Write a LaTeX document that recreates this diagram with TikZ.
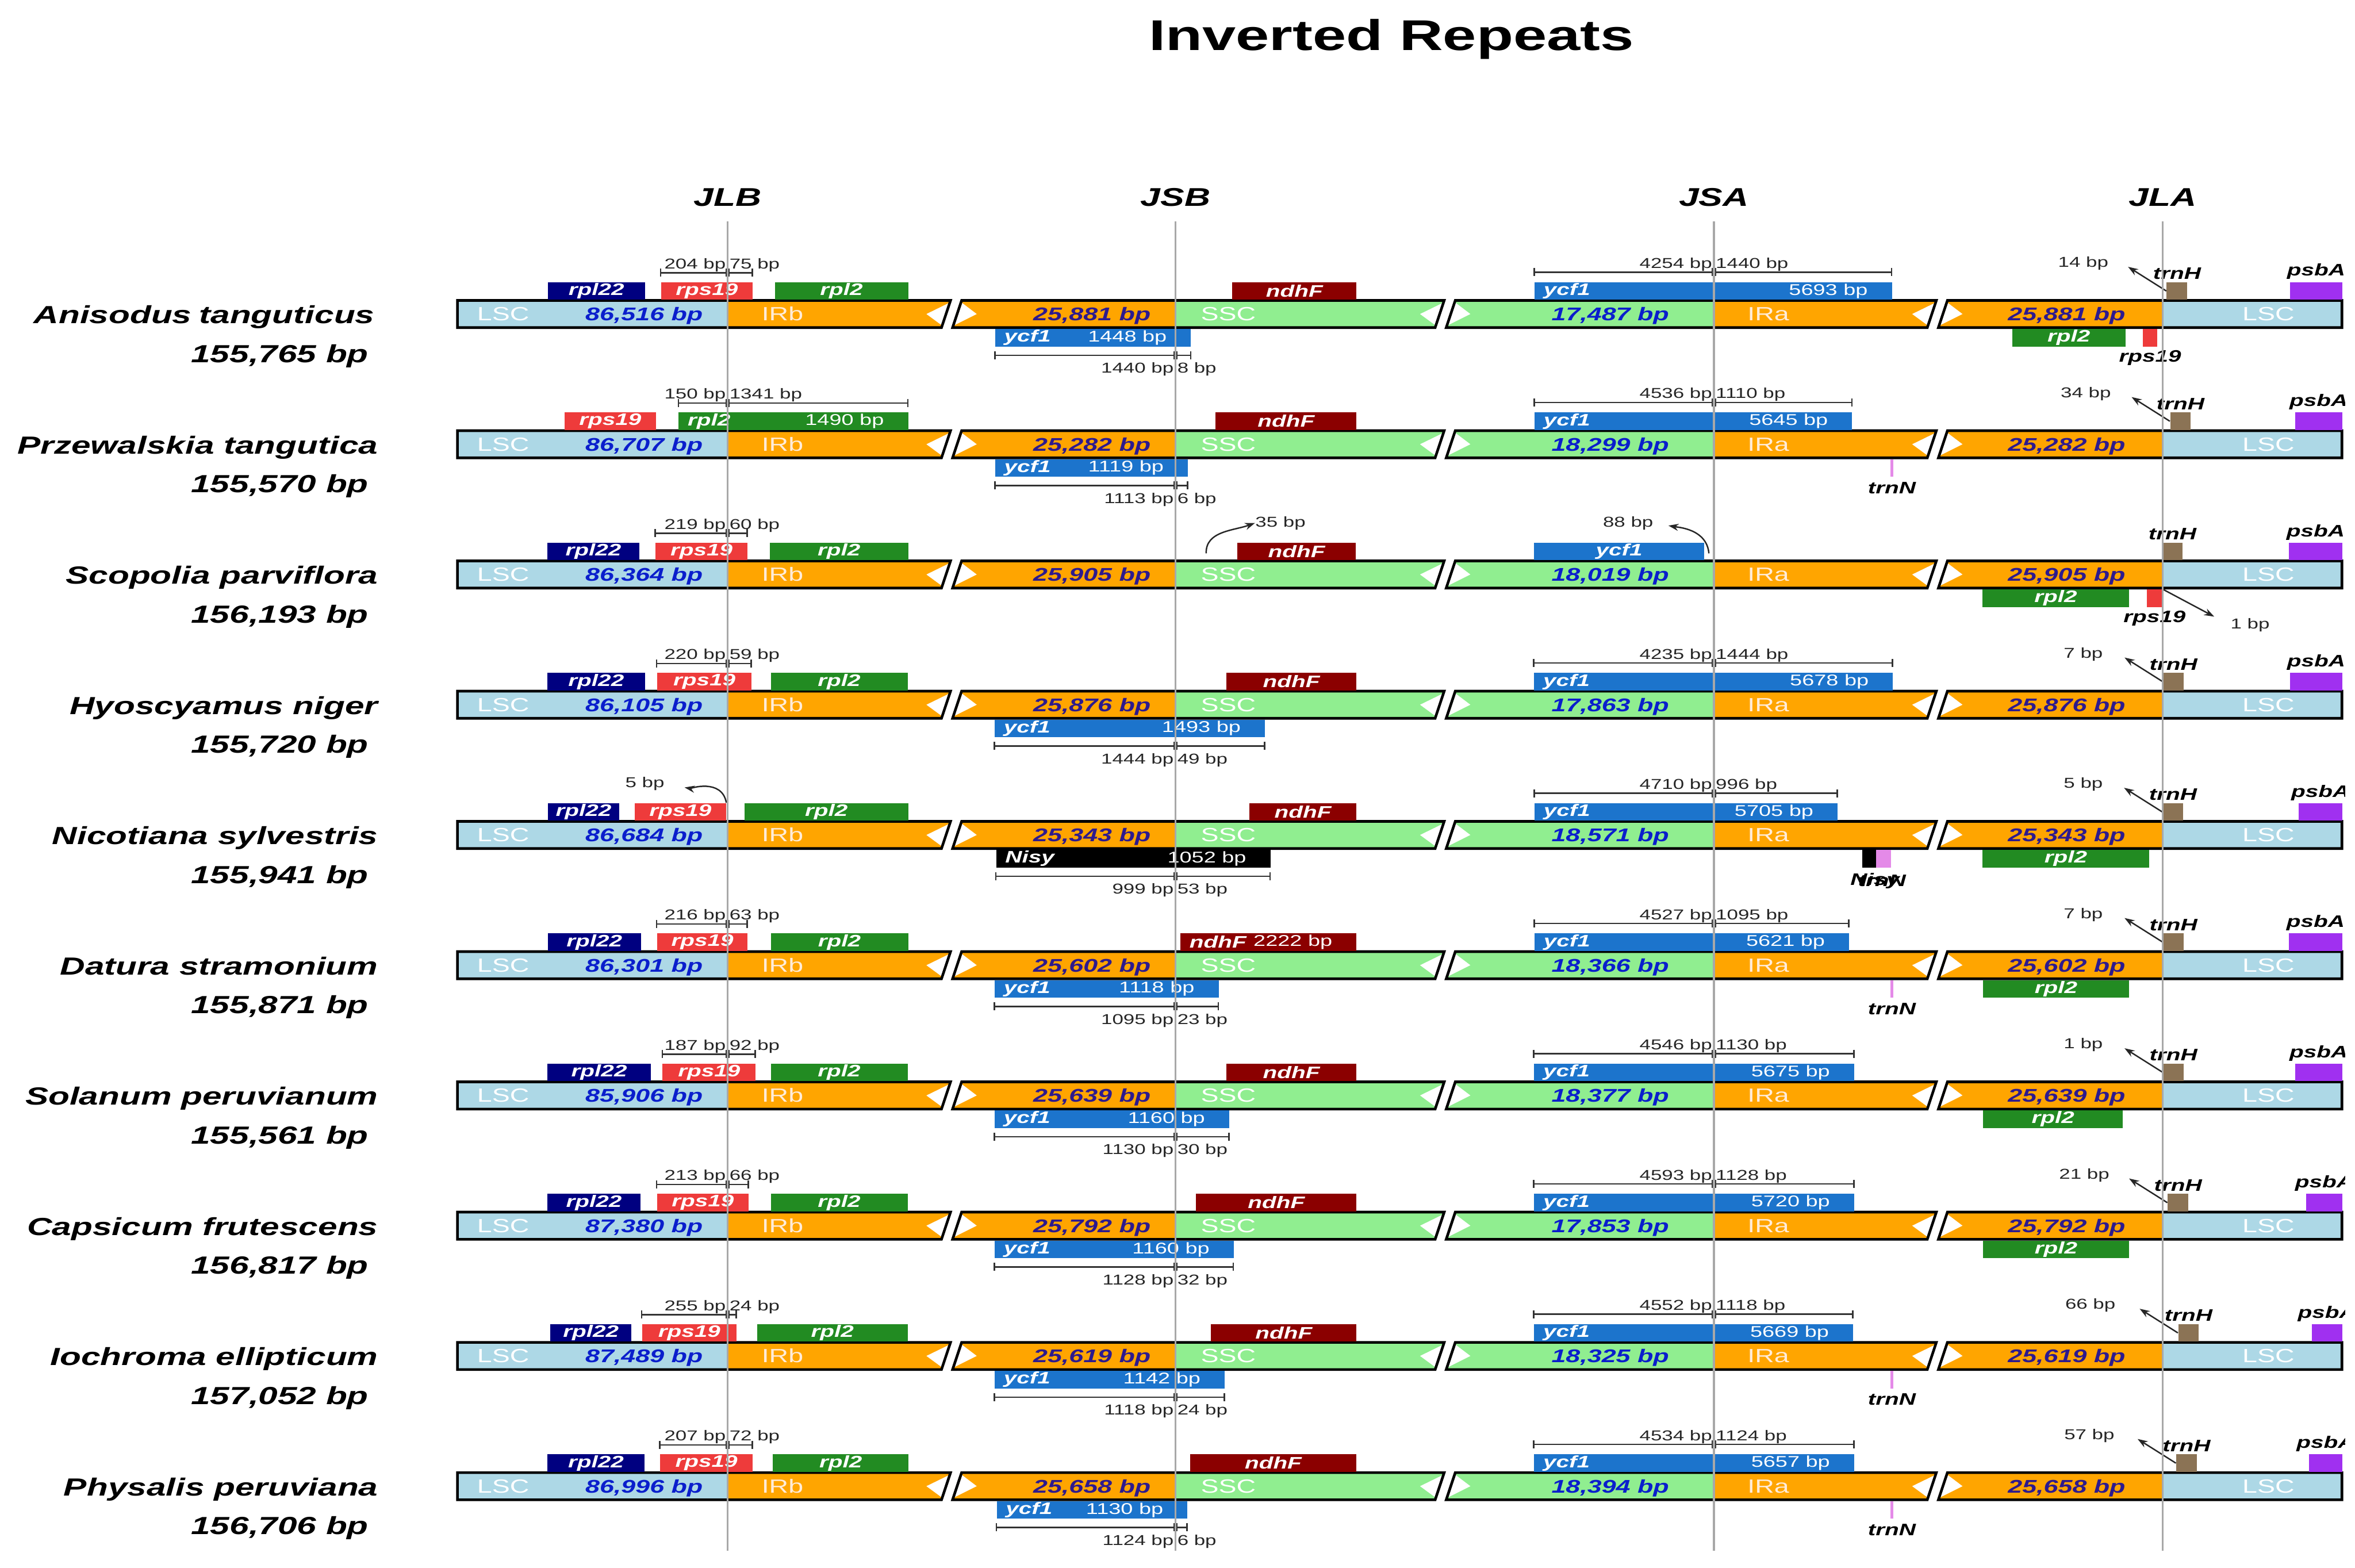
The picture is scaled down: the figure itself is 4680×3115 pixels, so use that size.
\documentclass[tikz,border=0pt]{standalone}
\usepackage{fontspec}
\setmainfont{Liberation Sans}[FakeStretch=1.4]
\usetikzlibrary{arrows.meta, positioning}
\definecolor{lscblue}{HTML}{ADD8E6}
\definecolor{irorange}{HTML}{FFA500}
\definecolor{sscgreen}{HTML}{90EE90}
\definecolor{rplnavy}{HTML}{000080}
\definecolor{rpsred}{HTML}{EE3B3B}
\definecolor{rplgreen}{HTML}{228B22}
\definecolor{ndhred}{HTML}{8B0000}
\definecolor{ycfblue}{HTML}{1C74CC}
\definecolor{trnbrown}{HTML}{8B7355}
\definecolor{psbpurple}{HTML}{A030F0}
\definecolor{trnpink}{HTML}{E48AE8}
\definecolor{numblue}{HTML}{0A1ECC}
\definecolor{numpurple}{HTML}{2D1A8E}
\definecolor{junctgray}{HTML}{A8A8A8}

% one genome bar: centre y, LSC, IR, SSC, prefix
\newcommand{\cpbar}[5]{%
  \pgfmathsetmacro{\yt}{#1-27}%
  \pgfmathsetmacro{\yb}{#1+27}%
  \begin{scope}
    \clip (909,\yt) -- (1889,\yt) -- (1871,\yb) -- (909,\yb) -- cycle
          (1911,\yt) -- (2870,\yt) -- (2852,\yb) -- (1893,\yb) -- cycle
          (2892,\yt) -- (3848,\yt) -- (3830,\yb) -- (2874,\yb) -- cycle
          (3870,\yt) -- (4654,\yt) -- (4654,\yb) -- (3852,\yb) -- cycle;
    \fill[lscblue] (909,\yt) rectangle (1446,\yb);
    \fill[irorange] (1446,\yt) rectangle (2336,\yb);
    \fill[sscgreen] (2336,\yt) rectangle (3406,\yb);
    \fill[irorange] (3406,\yt) rectangle (4298,\yb);
    \fill[lscblue] (4298,\yt) rectangle (4654,\yb);
  \end{scope}
  \foreach \bx in {1891,2872,3850}{
    \fill[white] (\bx-5,\yt+5) -- (\bx-20,\yb-5) -- (\bx-50,#1) -- cycle;
    \fill[white] (\bx+21,\yt+5) -- (\bx+6,\yb-5) -- (\bx+50,#1) -- cycle;
  }
  \draw[barline] (909,\yt) -- (1889,\yt) -- (1871,\yb) -- (909,\yb) -- cycle
                 (1911,\yt) -- (2870,\yt) -- (2852,\yb) -- (1893,\yb) -- cycle
                 (2892,\yt) -- (3848,\yt) -- (3830,\yb) -- (2874,\yb) -- cycle
                 (3870,\yt) -- (4654,\yt) -- (4654,\yb) -- (3852,\yb) -- cycle;
  \node[regtxt, text=white] (#5lsc) at (1000,#1+13) {LSC};
  \node[numtxt, text=numblue] (#5nl) at (1280,#1+13) {#2};
  \node[regtxt, text=white!85!orange] (#5irb) at (1555,#1+13) {IRb};
  \node[numtxt, text=numpurple] (#5nb) at (2170,#1+13) {#3};
  \node[regtxt, text=white] (#5ssc) at (2441,#1+13) {SSC};
  \node[numtxt, text=numblue] (#5ns) at (3200,#1+13) {#4};
  \node[regtxt, text=white!85!orange] (#5ira) at (3514,#1+13) {IRa};
  \node[numtxt, text=numpurple] (#5na) at (4107,#1+13) {#3};
  \node[regtxt, text=white] (#5lsr) at (4508,#1+13) {LSC};
}
\newcommand{\gene}[6]{\node[gene, fill=#2, minimum width={(#4-#3)*0.01cm}] (#1) at (#3,#5) {#6};}
\newcommand{\gtwo}[7]{%
  \node[gene, fill=#2, minimum width={(#4-#3)*0.01cm}] (#1) at (#3,#5) {};
  \node[gname, anchor=west] (#1n) at ([xshift=0.18cm]#1.west) {#6};
  \node[gsize, anchor=east] (#1s) at ([xshift=-0.48cm]#1.east) {#7};}
\newcommand{\dimup}[7]{%
  \draw[dimline] (#2,#5) -- (#4,#5) (#2,#5-8) -- (#2,#5+8) (#4,#5-8) -- (#4,#5+8)
    (#3-3,#5-8) -- (#3-3,#5+8) (#3+3,#5-8) -- (#3+3,#5+8);
  \node[bptxt, anchor=base east] (#1l) at (#3-3,#5-8) {#6};
  \node[bptxt, anchor=base west] (#1r) at (#3+3,#5-8) {#7};}
\newcommand{\dimdn}[7]{%
  \draw[dimline] (#2,#5) -- (#4,#5) (#2,#5-8) -- (#2,#5+8) (#4,#5-8) -- (#4,#5+8)
    (#3-3,#5-8) -- (#3-3,#5+8) (#3+3,#5-8) -- (#3+3,#5+8);
  \node[bptxt, anchor=base east] (#1l) at (#3-3,#5+35) {#6};
  \node[bptxt, anchor=base west] (#1r) at (#3+3,#5+35) {#7};}
\newcommand{\jlagenes}[3]{%
  \gene{#1t}{trnbrown}{#2}{#2+41}{\yc-64}{}
  \node[glabel, above=0.04cm of #1t] (#1tl) {trnH};
  \gene{#1p}{psbpurple}{#3}{4654}{\yc-64}{}
  \node[glabel, above=0.04cm of #1p] (#1pl) {psbA};}
\newcommand{\jlaptr}[3]{%
  \node[bptxt, anchor=base] (#1q) at (#3,\yc-93) {#2};
  \coordinate (#1z) at ([shift={(-76,-48)}]#1t.west);
  \draw[ptr] (#1t.west) -- (#1z);}

\begin{document}
\begin{tikzpicture}[
  x=0.01cm, y=-0.01cm,
  barline/.style={draw=black, line width=1.5pt, line join=miter},
  jline/.style={draw=junctgray, line width=1.1pt},
  gene/.style={rectangle, inner sep=0pt, minimum height=0.35cm, anchor=north west, text=white, font=\fontsize{9.4}{10}\selectfont\bfseries\itshape},
  gname/.style={inner sep=0pt, text=white, font=\fontsize{9.4}{10}\selectfont\bfseries\itshape},
  gsize/.style={inner sep=0pt, text=white, font=\fontsize{8.8}{10}\selectfont},
  glabel/.style={inner sep=0pt, font=\fontsize{9.4}{10}\selectfont\bfseries\itshape},
  bptxt/.style={inner sep=0pt, text=black!85, font=\fontsize{8.1}{9}\selectfont},
  regtxt/.style={inner sep=0pt, anchor=base, font=\fontsize{10.8}{12}\selectfont},
  numtxt/.style={inner sep=0pt, anchor=base, font=\fontsize{10.4}{12}\selectfont\bfseries\itshape},
  spname/.style={inner sep=0pt, anchor=base east, font=\fontsize{14}{16}\selectfont\bfseries\itshape},
  jtxt/.style={inner sep=0pt, anchor=base, font=\fontsize{14.5}{16}\selectfont\bfseries\itshape},
  titletxt/.style={inner sep=0pt, anchor=base, font=\fontsize{24.3}{28}\selectfont\bfseries},
  dimline/.style={draw=black!80, line width=0.8pt},
  ptr/.style={-{Stealth[length=0.2cm, width=0.14cm]}, line width=0.8pt, draw=black!85}
]
\useasboundingbox (0,0) rectangle (4680,3115);
\fill[white] (0,0) rectangle (4680,3115);
\clip (0,0) rectangle (4660,3115);

\node[titletxt] (title) at (2765,100) {Inverted Repeats};
\node[jtxt] (jlb) at (1446,410) {JLB};
\node[jtxt] (jsb) at (2336,410) {JSB};
\node[jtxt] (jsa) at (3406,410) {JSA};
\node[jtxt] (jla) at (4298,410) {JLA};

% Anisodus tanguticus
\def\yc{624}
\cpbar{\yc}{86,516 bp}{25,881 bp}{17,487 bp}{r1}
\node[spname] (r1sp) at (745,\yc+19) {Anisodus\hspace{0.3em}tanguticus};
\node[spname] (r1len) at (733,\yc+96) {155,765 bp};
\gene{r1a}{rplnavy}{1088}{1281}{\yc-64}{rpl22}
\gene{r1b}{rpsred}{1313}{1495}{\yc-64}{rps19}
\gene{r1c}{rplgreen}{1539}{1804}{\yc-64}{rpl2}
\dimup{r1d}{1313}{1446}{1495}{\yc-82}{204 bp}{75 bp}
\gene{r1e}{ndhred}{2448}{2695}{\yc-64}{ndhF}
\gtwo{r1f}{ycfblue}{1977}{2366}{\yc+29}{ycf1}{1448 bp}
\dimdn{r1g}{1977}{2336}{2366}{\yc+82}{1440 bp}{8 bp}
\gtwo{r1h}{ycfblue}{3049}{3759}{\yc-64}{ycf1}{5693 bp}
\dimup{r1i}{3049}{3406}{3759}{\yc-83}{4254 bp}{1440 bp}
\jlagenes{r1}{4305}{4550}
\jlaptr{r1}{14 bp}{4140}
\gene{r1k}{rplgreen}{3998}{4223}{\yc+29}{rpl2}
\gene{r1m}{rpsred}{4258}{4286}{\yc+29}{}
\node[glabel, below=0.06cm of r1m] (r1ml) {rps19};

% Przewalskia tangutica
\def\yc{882.8}
\cpbar{\yc}{86,707 bp}{25,282 bp}{18,299 bp}{r2}
\node[spname] (r2sp) at (752,\yc+19) {Przewalskia tangutica};
\node[spname] (r2len) at (733,\yc+96) {155,570 bp};
\gene{r2b}{rpsred}{1121}{1303}{\yc-64}{rps19}
\gtwo{r2c}{rplgreen}{1348}{1804}{\yc-64}{rpl2}{1490 bp}
\dimup{r2d}{1348}{1446}{1804}{\yc-82}{150 bp}{1341 bp}
\gene{r2e}{ndhred}{2415}{2695}{\yc-64}{ndhF}
\gtwo{r2f}{ycfblue}{1977}{2360}{\yc+29}{ycf1}{1119 bp}
\dimdn{r2g}{1977}{2336}{2360}{\yc+82}{1113 bp}{6 bp}
\gtwo{r2h}{ycfblue}{3049}{3680}{\yc-64}{ycf1}{5645 bp}
\dimup{r2i}{3049}{3406}{3680}{\yc-83}{4536 bp}{1110 bp}
\jlagenes{r2}{4312}{4560}
\jlaptr{r2}{34 bp}{4145}
\gene{r2n}{trnpink}{3756}{3762}{\yc+29}{}
\node[glabel, below=0.09cm of r2n] (r2nl) {trnN};

% Scopolia parviflora
\def\yc{1141.6}
\cpbar{\yc}{86,364 bp}{25,905 bp}{18,019 bp}{r3}
\node[spname] (r3sp) at (752,\yc+19) {Scopolia parviflora};
\node[spname] (r3len) at (733,\yc+96) {156,193 bp};
\gene{r3a}{rplnavy}{1087}{1270}{\yc-64}{rpl22}
\gene{r3b}{rpsred}{1302}{1485}{\yc-64}{rps19}
\gene{r3c}{rplgreen}{1529}{1804}{\yc-64}{rpl2}
\dimup{r3d}{1302}{1446}{1485}{\yc-82}{219 bp}{60 bp}
\gene{r3e}{ndhred}{2458}{2694}{\yc-64}{ndhF}
\coordinate (r3u) at (2397,\yc-42);
\node[bptxt, anchor=base west] (r3v) at (2494,\yc-95) {35 bp};
\draw[ptr] (r3u) to[out=92,in=200] (r3v.west);
\gene{r3h}{ycfblue}{3048}{3386}{\yc-64}{ycf1}
\coordinate (r3x) at (3396,\yc-42);
\node[bptxt, anchor=base east] (r3y) at (3286,\yc-95) {88 bp};
\draw[ptr, shorten >=0.3cm] (r3x) to[out=95,in=-10] (r3y.east);
\jlagenes{r3}{4296}{4548}
\gene{r3k}{rplgreen}{3939}{4230}{\yc+29}{rpl2}
\gene{r3m}{rpsred}{4266}{4296}{\yc+29}{}
\node[glabel, below=0.06cm of r3m] (r3ml) {rps19};
\node[bptxt, anchor=base west] (r3w) at (4432,\yc+108) {1 bp};
\draw[ptr, shorten >=0.36cm] (r3m.north east) -- (r3w.west);

% Hyoscyamus niger
\def\yc{1400.4}
\cpbar{\yc}{86,105 bp}{25,876 bp}{17,863 bp}{r4}
\node[spname] (r4sp) at (752,\yc+19) {Hyoscyamus niger};
\node[spname] (r4len) at (733,\yc+96) {155,720 bp};
\gene{r4a}{rplnavy}{1087}{1281}{\yc-64}{rpl22}
\gene{r4b}{rpsred}{1305}{1493}{\yc-64}{rps19}
\gene{r4c}{rplgreen}{1531}{1803}{\yc-64}{rpl2}
\dimup{r4d}{1305}{1446}{1493}{\yc-82}{220 bp}{59 bp}
\gene{r4e}{ndhred}{2436}{2695}{\yc-64}{ndhF}
\gtwo{r4f}{ycfblue}{1976}{2513}{\yc+29}{ycf1}{1493 bp}
\dimdn{r4g}{1976}{2336}{2513}{\yc+82}{1444 bp}{49 bp}
\gtwo{r4h}{ycfblue}{3048}{3761}{\yc-64}{ycf1}{5678 bp}
\dimup{r4i}{3048}{3406}{3761}{\yc-83}{4235 bp}{1444 bp}
\jlagenes{r4}{4298}{4550}
\jlaptr{r4}{7 bp}{4140}

% Nicotiana sylvestris
\def\yc{1659.2}
\cpbar{\yc}{86,684 bp}{25,343 bp}{18,571 bp}{r5}
\node[spname] (r5sp) at (752,\yc+19) {Nicotiana sylvestris};
\node[spname] (r5len) at (733,\yc+96) {155,941 bp};
\gene{r5a}{rplnavy}{1088}{1230}{\yc-64}{rpl22}
\gene{r5b}{rpsred}{1261}{1442}{\yc-64}{rps19}
\gene{r5c}{rplgreen}{1479}{1804}{\yc-64}{rpl2}
\node[bptxt, anchor=base east] (r5v) at (1321,\yc-94) {5 bp};
\draw[ptr, shorten >=0.4cm] (r5b.north east) to[out=100,in=-10] (r5v.east);
\gene{r5e}{ndhred}{2482}{2695}{\yc-64}{ndhF}
\gtwo{r5f}{black}{1979}{2524}{\yc+29}{Nisy}{1052 bp}
\dimdn{r5g}{1979}{2336}{2524}{\yc+82}{999 bp}{53 bp}
\gtwo{r5h}{ycfblue}{3049}{3651}{\yc-64}{ycf1}{5705 bp}
\dimup{r5i}{3049}{3406}{3651}{\yc-83}{4710 bp}{996 bp}
\jlagenes{r5}{4297}{4567}
\jlaptr{r5}{5 bp}{4140}
\gene{r5m}{black}{3700}{3727}{\yc+29}{}
\gene{r5n}{trnpink}{3727}{3757}{\yc+29}{}
\node[glabel] (r5ml) at (3726,\yc+91) {Nisy};
\node[glabel] (r5nl) at (3740,\yc+91) {trnN};
\gene{r5k}{rplgreen}{3939}{4270}{\yc+29}{rpl2}

% Datura stramonium
\def\yc{1918}
\cpbar{\yc}{86,301 bp}{25,602 bp}{18,366 bp}{r6}
\node[spname] (r6sp) at (752,\yc+19) {Datura stramonium};
\node[spname] (r6len) at (733,\yc+96) {155,871 bp};
\gene{r6a}{rplnavy}{1088}{1273}{\yc-64}{rpl22}
\gene{r6b}{rpsred}{1305}{1485}{\yc-64}{rps19}
\gene{r6c}{rplgreen}{1531}{1804}{\yc-64}{rpl2}
\dimup{r6d}{1305}{1446}{1485}{\yc-82}{216 bp}{63 bp}
\gtwo{r6e}{ndhred}{2345}{2695}{\yc-64}{ndhF}{2222 bp}
\gtwo{r6f}{ycfblue}{1976}{2421}{\yc+29}{ycf1}{1118 bp}
\dimdn{r6g}{1976}{2336}{2421}{\yc+82}{1095 bp}{23 bp}
\gtwo{r6h}{ycfblue}{3049}{3674}{\yc-64}{ycf1}{5621 bp}
\dimup{r6i}{3049}{3406}{3674}{\yc-83}{4527 bp}{1095 bp}
\jlagenes{r6}{4298}{4548}
\jlaptr{r6}{7 bp}{4140}
\gene{r6n}{trnpink}{3756}{3762}{\yc+29}{}
\node[glabel, below=0.09cm of r6n] (r6nl) {trnN};
\gene{r6k}{rplgreen}{3940}{4230}{\yc+29}{rpl2}

% Solanum peruvianum
\def\yc{2176.8}
\cpbar{\yc}{85,906 bp}{25,639 bp}{18,377 bp}{r7}
\node[spname] (r7sp) at (752,\yc+19) {Solanum peruvianum};
\node[spname] (r7len) at (733,\yc+96) {155,561 bp};
\gene{r7a}{rplnavy}{1087}{1293}{\yc-64}{rpl22}
\gene{r7b}{rpsred}{1316}{1501}{\yc-64}{rps19}
\gene{r7c}{rplgreen}{1531}{1803}{\yc-64}{rpl2}
\dimup{r7d}{1316}{1446}{1501}{\yc-82}{187 bp}{92 bp}
\gene{r7e}{ndhred}{2436}{2695}{\yc-64}{ndhF}
\gtwo{r7f}{ycfblue}{1976}{2442}{\yc+29}{ycf1}{1160 bp}
\dimdn{r7g}{1976}{2336}{2442}{\yc+82}{1130 bp}{30 bp}
\gtwo{r7h}{ycfblue}{3048}{3684}{\yc-64}{ycf1}{5675 bp}
\dimup{r7i}{3048}{3406}{3684}{\yc-83}{4546 bp}{1130 bp}
\jlagenes{r7}{4298}{4560}
\jlaptr{r7}{1 bp}{4140}
\gene{r7k}{rplgreen}{3940}{4218}{\yc+29}{rpl2}

% Capsicum frutescens
\def\yc{2435.6}
\cpbar{\yc}{87,380 bp}{25,792 bp}{17,853 bp}{r8}
\node[spname] (r8sp) at (752,\yc+19) {Capsicum frutescens};
\node[spname] (r8len) at (733,\yc+96) {156,817 bp};
\gene{r8a}{rplnavy}{1087}{1272}{\yc-64}{rpl22}
\gene{r8b}{rpsred}{1305}{1487}{\yc-64}{rps19}
\gene{r8c}{rplgreen}{1531}{1803}{\yc-64}{rpl2}
\dimup{r8d}{1305}{1446}{1487}{\yc-82}{213 bp}{66 bp}
\gene{r8e}{ndhred}{2376}{2695}{\yc-64}{ndhF}
\gtwo{r8f}{ycfblue}{1976}{2451}{\yc+29}{ycf1}{1160 bp}
\dimdn{r8g}{1976}{2336}{2451}{\yc+82}{1128 bp}{32 bp}
\gtwo{r8h}{ycfblue}{3048}{3684}{\yc-64}{ycf1}{5720 bp}
\dimup{r8i}{3048}{3406}{3684}{\yc-83}{4593 bp}{1128 bp}
\jlagenes{r8}{4307}{4582}
\jlaptr{r8}{21 bp}{4142}
\gene{r8k}{rplgreen}{3940}{4230}{\yc+29}{rpl2}

% Iochroma ellipticum
\def\yc{2694.4}
\cpbar{\yc}{87,489 bp}{25,619 bp}{18,325 bp}{r9}
\node[spname] (r9sp) at (752,\yc+19) {Iochroma ellipticum};
\node[spname] (r9len) at (733,\yc+96) {157,052 bp};
\gene{r9a}{rplnavy}{1093}{1254}{\yc-64}{rpl22}
\gene{r9b}{rpsred}{1275}{1463}{\yc-64}{rps19}
\gene{r9c}{rplgreen}{1504}{1803}{\yc-64}{rpl2}
\dimup{r9d}{1275}{1446}{1463}{\yc-82}{255 bp}{24 bp}
\gene{r9e}{ndhred}{2406}{2695}{\yc-64}{ndhF}
\gtwo{r9f}{ycfblue}{1976}{2433}{\yc+29}{ycf1}{1142 bp}
\dimdn{r9g}{1976}{2336}{2433}{\yc+82}{1118 bp}{24 bp}
\gtwo{r9h}{ycfblue}{3048}{3682}{\yc-64}{ycf1}{5669 bp}
\dimup{r9i}{3048}{3406}{3682}{\yc-83}{4552 bp}{1118 bp}
\jlagenes{r9}{4328}{4593}
\jlaptr{r9}{66 bp}{4154}
\gene{r9n}{trnpink}{3756}{3762}{\yc+29}{}
\node[glabel, below=0.09cm of r9n] (r9nl) {trnN};

% Physalis peruviana
\def\yc{2953.2}
\cpbar{\yc}{86,996 bp}{25,658 bp}{18,394 bp}{r10}
\node[spname] (r10sp) at (752,\yc+19) {Physalis peruviana};
\node[spname] (r10len) at (733,\yc+96) {156,706 bp};
\gene{r10a}{rplnavy}{1087}{1280}{\yc-64}{rpl22}
\gene{r10b}{rpsred}{1311}{1495}{\yc-64}{rps19}
\gene{r10c}{rplgreen}{1535}{1805}{\yc-64}{rpl2}
\dimup{r10d}{1311}{1446}{1495}{\yc-82}{207 bp}{72 bp}
\gene{r10e}{ndhred}{2364}{2695}{\yc-64}{ndhF}
\gtwo{r10f}{ycfblue}{1980}{2359}{\yc+29}{ycf1}{1130 bp}
\dimdn{r10g}{1980}{2336}{2359}{\yc+82}{1124 bp}{6 bp}
\gtwo{r10h}{ycfblue}{3048}{3684}{\yc-64}{ycf1}{5657 bp}
\dimup{r10i}{3048}{3406}{3684}{\yc-83}{4534 bp}{1124 bp}
\jlagenes{r10}{4324}{4588}
\jlaptr{r10}{57 bp}{4152}
\gene{r10n}{trnpink}{3756}{3762}{\yc+29}{}
\node[glabel, below=0.09cm of r10n] (r10nl) {trnN};

% junction lines
\draw[jline] (1446,440) -- (1446,3082);
\draw[jline] (2336,440) -- (2336,3082);
\draw[jline] (3406,440) -- (3406,3082);
\draw[jline] (4298,440) -- (4298,3082);
\end{tikzpicture}
\end{document}
